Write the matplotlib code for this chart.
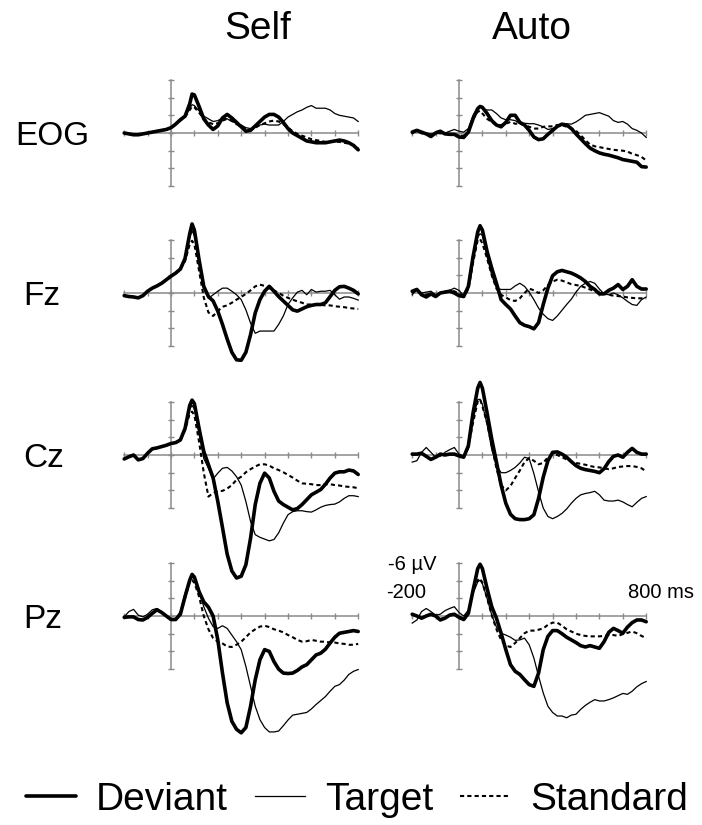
import numpy as np
import matplotlib
matplotlib.use('Agg')
import matplotlib.pyplot as plt
from matplotlib.lines import Line2D

plt.rcParams['font.family'] = ['Liberation Sans', 'DejaVu Sans']

# ---------------- data (µV, negative plotted upward) ----------------
time_ms = [-200, -180, -160, -140, -120, -100, -80, -60, -40, -20, 0, 20, 40, 60, 80, 90,
           100, 120, 140, 160, 180, 200, 220, 240, 260, 280, 300, 320, 340, 360, 380, 400,
           420, 440, 460, 480, 500, 520, 540, 560, 580, 600, 620, 640, 660, 680, 700, 720,
           740, 760, 780, 800]

conditions = ['Self', 'Auto']
channels = ['EOG', 'Fz', 'Cz', 'Pz']
series_names = ['Deviant', 'Target', 'Standard']

eog_self_deviant = [0.0, 0.1, 0.2, 0.2, 0.1, 0.0, -0.1, -0.2, -0.3, -0.4, -0.6, -1.0, -1.5, -1.9, -3.3, -4.4,
                    -4.3, -3.0, -1.6, -0.9, -0.4, -0.8, -1.7, -2.1, -1.7, -1.2, -0.7, -0.2, -0.3, -0.8, -1.3, -1.8,
                    -2.1, -2.1, -1.8, -1.2, -0.5, 0.0, 0.3, 0.6, 0.9, 1.0, 1.1, 1.1, 1.1, 1.0, 0.9, 0.8,
                    0.9, 1.1, 1.4, 1.9]
eog_self_target = [0.0, 0.1, 0.2, 0.2, 0.1, 0.0, -0.1, -0.2, -0.3, -0.4, -0.6, -1.0, -1.4, -1.8, -2.8, -3.2,
                   -3.1, -2.5, -1.9, -1.6, -1.3, -1.4, -1.7, -1.6, -1.3, -1.1, -0.9, -0.6, -0.5, -0.7, -0.9, -1.0,
                   -0.9, -0.9, -0.9, -1.3, -1.8, -2.1, -2.4, -2.6, -2.9, -3.1, -2.8, -2.8, -2.8, -2.6, -2.2, -2.0,
                   -1.9, -1.8, -1.7, -1.3]
eog_self_standard = [0.0, 0.1, 0.2, 0.2, 0.1, 0.0, -0.1, -0.2, -0.3, -0.4, -0.6, -1.0, -1.4, -1.8, -2.6, -3.0,
                     -2.9, -2.3, -1.6, -1.2, -1.0, -1.1, -1.4, -1.6, -1.4, -1.0, -0.7, -0.5, -0.4, -0.6, -0.9, -1.1,
                     -1.3, -1.4, -1.3, -1.0, -0.6, -0.2, 0.1, 0.3, 0.5, 0.7, 0.8, 0.9, 1.0, 1.0, 1.0, 1.0,
                     1.1, 1.2, 1.4, 1.7]

eog_auto_deviant = [-0.1, -0.3, -0.1, 0.1, 0.4, 0.0, -0.2, 0.1, 0.15, 0.15, 0.45, 0.5, -0.1, -1.6, -2.75, -3.0,
                    -2.9, -2.2, -1.4, -0.9, -0.7, -1.2, -2.0, -2.0, -1.2, -0.9, -0.3, 0.45, 0.75, 0.65, 0.15, -0.3,
                    -0.75, -1.0, -0.9, -0.5, 0.1, 0.65, 1.2, 1.7, 2.0, 2.25, 2.4, 2.5, 2.65, 2.8, 3.0, 3.1,
                    3.2, 3.3, 3.8, 3.85]
eog_auto_target = [0.1, -0.3, 0.1, 0.0, 0.1, 0.0, 0.1, 0.0, -0.2, -0.4, -0.2, -0.1, -0.5, -2.0, -2.9, -3.0,
                   -2.75, -2.6, -2.6, -2.2, -1.7, -1.5, -1.5, -1.4, -1.05, -1.1, -1.05, -1.05, -0.9, -0.7, -0.4, -0.5,
                   -0.7, -0.9, -1.05, -1.0, -1.25, -1.6, -2.0, -2.1, -2.2, -2.3, -2.1, -1.9, -1.4, -1.2, -1.3, -1.0,
                   -0.5, -0.3, 0.0, 0.5]
eog_auto_standard = [-0.1, -0.2, 0.0, 0.1, 0.3, 0.0, -0.1, 0.1, 0.1, 0.1, 0.3, 0.3, -0.1, -1.6, -2.4, -2.5,
                     -2.2, -1.6, -1.25, -0.9, -0.9, -1.05, -1.25, -1.05, -1.05, -0.9, -0.7, -0.5, -0.5, -0.7, -0.75, -0.75,
                     -0.9, -0.9, -0.7, -0.5, -0.25, 0.25, 0.8, 1.3, 1.5, 1.6, 1.7, 1.8, 1.9, 1.95, 2.0, 2.1,
                     2.35, 2.5, 2.7, 3.1]

fz_self_deviant = [0.3, 0.4, 0.45, 0.55, 0.3, -0.2, -0.55, -0.8, -1.1, -1.5, -1.9, -2.25, -2.7, -3.9, -6.7, -7.8,
                   -7.1, -3.75, -0.75, 0.4, 0.9, 2.05, 3.55, 5.2, 6.7, 7.55, 7.6, 6.7, 4.7, 2.25, 0.75, -0.2,
                   -0.75, -0.2, 0.4, 0.9, 1.4, 1.9, 2.05, 1.8, 1.55, 1.4, 1.3, 1.3, 1.1, 0.4, -0.3, -0.7,
                   -0.75, -0.55, -0.3, 0.1]
fz_self_target = [0.3, 0.4, 0.45, 0.55, 0.3, -0.2, -0.55, -0.8, -1.1, -1.5, -1.9, -2.25, -2.7, -3.8, -6.3, -7.0,
                  -6.5, -3.5, -0.5, 0.6, 0.2, -0.2, -0.55, -0.55, -0.2, 0.2, 0.75, 1.9, 3.4, 4.55, 4.3, 4.3,
                  4.3, 4.3, 3.55, 2.6, 1.3, 0.55, -0.1, -0.3, 0.2, -0.4, -0.1, -0.2, -0.2, -0.3, 0.2, 0.7,
                  0.45, 0.45, 0.6, 0.8]
fz_self_standard = [0.3, 0.4, 0.45, 0.55, 0.3, -0.2, -0.55, -0.8, -1.1, -1.5, -1.9, -2.25, -2.7, -3.6, -5.5, -5.9,
                    -5.5, -2.5, 0.5, 2.2, 2.6, 2.05, 1.55, 1.4, 1.1, 0.75, 0.45, 0.1, -0.3, -0.75, -0.95, -0.8,
                    -0.55, -0.3, 0.0, 0.3, 0.55, 0.75, 0.95, 1.1, 1.3, 1.3, 1.3, 1.35, 1.4, 1.4, 1.5, 1.55,
                    1.6, 1.7, 1.75, 1.8]

fz_auto_deviant = [-0.2, -0.4, 0.2, 0.45, 0.1, 0.4, 0.0, -0.1, -0.2, 0.0, 0.3, 0.4, -0.75, -4.1, -6.9, -7.6,
                   -7.1, -4.7, -2.8, -1.1, 0.75, 1.3, 1.8, 2.6, 3.35, 3.65, 3.8, 4.05, 3.35, 1.3, -0.55, -1.95,
                   -2.4, -2.55, -2.4, -2.25, -2.0, -1.7, -1.3, -0.75, -0.4, 0.1, 0.1, -0.3, -0.55, -0.95, -0.4, -0.75,
                   -1.5, -0.75, -0.45, -0.45]
fz_auto_target = [0.2, -0.45, 0.0, -0.1, -0.2, 0.2, 0.0, -0.2, -0.3, -0.55, -0.3, 0.3, -0.4, -3.75, -6.3, -6.7,
                  -6.5, -4.1, -2.0, -0.55, -0.4, -0.4, -0.4, -0.8, -1.1, -0.75, -0.1, 0.75, 1.7, 2.4, 2.9, 3.1,
                  2.6, 1.95, 1.3, 0.7, -0.1, -0.75, -1.1, -1.3, -1.1, -0.45, 0.1, 0.2, 0.0, 0.2, 0.55, 0.95,
                  1.3, 1.4, 0.75, 0.45]
fz_auto_standard = [0.0, -0.3, 0.1, 0.2, 0.0, 0.2, 0.0, -0.1, -0.2, -0.2, 0.1, 0.3, -0.4, -3.4, -6.0, -6.1,
                    -5.6, -3.9, -2.0, -0.5, 0.2, 0.5, 0.8, 0.9, 0.6, 0.0, -0.5, -0.3, 0.0, -0.3, -0.9, -1.3,
                    -1.5, -1.4, -1.2, -1.0, -0.9, -0.8, -0.6, -0.4, -0.2, 0.0, 0.1, 0.2, 0.3, 0.35, 0.4, 0.5,
                    0.55, 0.6, 0.6, 0.6]

cz_self_deviant = [0.45, 0.2, 0.0, 0.55, 0.4, -0.2, -0.7, -0.8, -0.95, -1.1, -1.3, -1.4, -1.7, -3.0, -5.6, -6.2,
                   -5.8, -3.0, -0.4, 1.1, 2.6, 5.25, 8.2, 11.2, 13.1, 13.9, 13.7, 12.4, 9.4, 5.6, 3.2, 2.05,
                   2.6, 4.1, 5.2, 5.6, 5.9, 6.2, 6.05, 5.6, 5.05, 4.5, 4.2, 3.9, 3.3, 2.6, 2.05, 1.9,
                   1.9, 1.7, 1.8, 2.2]
cz_self_target = [0.45, 0.2, 0.0, 0.55, 0.4, -0.2, -0.7, -0.8, -0.95, -1.1, -1.3, -1.4, -1.7, -2.9, -5.2, -5.6,
                  -5.2, -2.6, 0.4, 1.5, 2.7, 2.05, 1.5, 1.4, 1.8, 2.45, 3.4, 5.25, 7.5, 9.0, 9.3, 9.5,
                  9.7, 9.55, 8.8, 7.7, 6.75, 6.4, 6.3, 6.3, 6.4, 6.45, 6.2, 5.9, 5.7, 5.6, 5.55, 5.3,
                  4.9, 4.6, 4.6, 4.7]
cz_self_standard = [0.45, 0.2, 0.0, 0.55, 0.4, -0.2, -0.7, -0.8, -0.95, -1.1, -1.3, -1.4, -1.7, -2.8, -4.7, -4.9,
                    -4.5, -1.5, 2.0, 4.7, 4.3, 4.1, 4.05, 3.8, 3.4, 2.8, 2.45, 1.95, 1.6, 1.3, 1.05, 1.05,
                    1.2, 1.5, 1.7, 1.95, 2.25, 2.55, 2.9, 3.2, 3.25, 3.3, 3.4, 3.4, 3.3, 3.3, 3.4, 3.45,
                    3.55, 3.6, 3.65, 3.75]

cz_auto_deviant = [-0.1, -0.1, -0.2, 0.15, 0.5, 0.25, -0.1, 0.0, -0.1, -0.1, 0.1, 0.25, -1.05, -4.75, -7.55, -8.2,
                   -7.55, -4.75, -1.8, 0.8, 3.4, 5.45, 6.7, 7.2, 7.3, 7.3, 7.2, 6.75, 4.9, 2.5, 0.65, -0.3,
                   -0.35, -0.1, 0.25, 0.75, 1.2, 1.5, 1.65, 1.75, 1.85, 2.0, 1.55, 0.75, 0.15, 0.0, 0.25, -0.3,
                   -0.75, -0.3, -0.1, -0.1]
cz_auto_target = [0.8, 0.65, -0.3, -0.85, -0.3, 0.25, 0.15, -0.3, -0.6, -0.85, -0.1, 0.1, -0.65, -4.0, -6.25, -6.3,
                  -5.7, -3.45, -0.65, 1.2, 2.0, 2.0, 1.75, 1.4, 0.9, 0.25, 0.4, 2.1, 4.15, 6.0, 6.95, 7.2,
                  6.95, 6.6, 6.1, 5.45, 4.9, 4.5, 4.35, 4.25, 4.1, 4.5, 5.1, 5.2, 5.2, 5.1, 5.3, 5.6,
                  5.85, 5.35, 4.9, 4.7]
cz_auto_standard = [-0.1, -0.1, -0.2, 0.15, 0.5, 0.25, -0.1, 0.0, -0.1, -0.1, 0.1, 0.2, -0.9, -3.65, -6.05, -6.3,
                    -5.5, -3.65, -1.0, 1.5, 3.4, 4.0, 3.5, 2.6, 1.75, 0.8, 0.35, 0.65, 1.05, 0.9, 0.25, -0.1,
                    0.0, 0.25, 0.5, 0.75, 0.9, 1.0, 1.1, 1.25, 1.35, 1.4, 1.5, 1.6, 1.5, 1.35, 1.3, 1.25,
                    1.25, 1.35, 1.5, 1.85]

pz_self_deviant = [0.15, 0.1, 0.1, 0.4, 0.45, 0.15, -0.3, -0.7, -0.4, 0.0, 0.4, 0.4, -0.2, -2.2, -4.05, -4.7,
                   -4.4, -2.75, -1.6, -1.0, 0.0, 2.7, 6.45, 9.8, 11.9, 12.8, 13.2, 12.6, 10.2, 7.2, 4.95, 3.8,
                   4.0, 5.15, 6.0, 6.45, 6.5, 6.45, 6.15, 5.75, 5.5, 4.95, 4.4, 4.2, 3.75, 3.05, 2.4, 1.95,
                   1.85, 1.75, 1.65, 1.75]
pz_self_target = [0.1, -0.5, -0.75, -0.1, 0.1, -0.2, -0.7, -0.85, -0.5, -0.1, 0.4, 0.25, -0.5, -2.55, -4.05, -4.4,
                  -4.2, -2.75, -1.05, 0.25, 1.2, 1.4, 1.1, 1.4, 2.15, 2.9, 3.8, 5.7, 7.95, 10.2, 11.7, 12.6,
                  13.1, 13.1, 13.0, 12.4, 11.75, 11.2, 11.1, 11.0, 10.9, 10.5, 10.0, 9.55, 9.1, 8.5, 7.95, 7.75,
                  7.25, 6.6, 6.25, 6.05]
pz_self_standard = [0.15, 0.1, 0.1, 0.4, 0.45, 0.15, -0.3, -0.7, -0.4, 0.0, 0.4, 0.4, -0.2, -2.0, -3.85, -4.05,
                    -3.75, -2.2, 0.0, 1.5, 2.5, 2.9, 3.1, 3.45, 3.5, 3.25, 2.9, 2.4, 1.85, 1.5, 1.2, 1.1,
                    1.25, 1.5, 1.65, 1.85, 2.15, 2.4, 2.7, 2.9, 2.85, 2.7, 2.8, 2.9, 2.9, 3.0, 3.0, 3.1,
                    3.15, 3.25, 3.25, 3.15]

pz_auto_deviant = [-0.2, 0.0, 0.25, 0.0, -0.2, 0.0, 0.45, 0.25, -0.1, -0.2, 0.15, 0.4, -0.3, -2.9, -5.35, -5.85,
                   -5.35, -3.1, -1.05, 0.25, 1.95, 3.8, 5.5, 6.25, 6.6, 7.2, 7.75, 7.95, 6.45, 3.8, 2.3, 1.65,
                   1.65, 2.0, 2.4, 2.7, 3.0, 3.35, 3.5, 3.35, 3.5, 3.65, 2.9, 1.85, 1.4, 1.65, 1.95, 1.25,
                   0.75, 0.45, 0.45, 0.65]
pz_auto_target = [0.8, 0.45, -0.5, -0.85, -0.5, -0.1, -0.2, -0.6, -0.85, -1.05, -0.4, 0.0, -0.65, -2.55, -3.85, -4.05,
                  -3.65, -2.0, -0.1, 1.25, 1.95, 2.15, 2.4, 2.75, 2.7, 2.5, 3.25, 4.75, 6.8, 8.7, 10.2, 10.9,
                  11.3, 11.3, 11.5, 11.2, 11.1, 10.55, 10.1, 9.75, 9.45, 9.6, 9.6, 9.45, 9.25, 9.0, 8.75, 8.85,
                  8.5, 8.0, 7.65, 7.4]
pz_auto_standard = [-0.2, 0.0, 0.2, 0.0, -0.2, 0.0, 0.35, 0.2, -0.1, -0.2, 0.1, 0.3, -0.4, -2.9, -4.05, -4.25,
                    -3.75, -2.0, -0.1, 1.5, 2.7, 3.35, 3.5, 3.05, 2.5, 1.95, 1.65, 1.65, 1.55, 1.4, 1.0, 0.75,
                    0.75, 1.1, 1.5, 1.75, 2.0, 2.15, 2.25, 2.3, 2.3, 2.3, 2.25, 2.15, 2.15, 2.25, 2.05, 1.9,
                    1.75, 1.95, 2.25, 2.5]

x_ticks = list(range(-200, 801, 100))
y_ticks = [-6, -4, -2, 0, 2, 4, 6]

panels = {
    ('EOG', 'Self'): (eog_self_deviant, eog_self_target, eog_self_standard),
    ('EOG', 'Auto'): (eog_auto_deviant, eog_auto_target, eog_auto_standard),
    ('Fz', 'Self'): (fz_self_deviant, fz_self_target, fz_self_standard),
    ('Fz', 'Auto'): (fz_auto_deviant, fz_auto_target, fz_auto_standard),
    ('Cz', 'Self'): (cz_self_deviant, cz_self_target, cz_self_standard),
    ('Cz', 'Auto'): (cz_auto_deviant, cz_auto_target, cz_auto_standard),
    ('Pz', 'Self'): (pz_self_deviant, pz_self_target, pz_self_standard),
    ('Pz', 'Auto'): (pz_auto_deviant, pz_auto_target, pz_auto_standard),
}

# ---------------- layout ----------------
W, H = 702, 825
fig = plt.figure(figsize=(W / 100, H / 100), dpi=100)
fig.patch.set_facecolor('white')

col_zero_x = {'Self': 171, 'Auto': 459}
row_zero_y = {'EOG': 133, 'Fz': 293, 'Cz': 455, 'Pz': 616}
px_per_ms = 0.234
px_per_uv = 8.85
VMIN, VMAX = -10, 16
AX_GRAY = '#8a8a8a'

styles = {
    'Deviant': dict(color='black', lw=2.6, solid_capstyle='round', solid_joinstyle='round'),
    'Target': dict(color='black', lw=0.9),
    'Standard': dict(color='black', lw=1.5, dashes=(2.0, 1.5)),
}

axes = {}
for ch in channels:
    for cond in conditions:
        xz, yz = col_zero_x[cond], row_zero_y[ch]
        left = xz + (-200) * px_per_ms
        width = 1000 * px_per_ms
        top = yz + VMIN * px_per_uv
        height = (VMAX - VMIN) * px_per_uv
        ax = fig.add_axes([left / W, 1 - (top + height) / H, width / W, height / H])
        ax.set_xlim(-200, 800)
        ax.set_ylim(VMAX, VMIN)
        ax.patch.set_visible(False)
        for s in ['top', 'right']:
            ax.spines[s].set_visible(False)
        ax.spines['left'].set_position(('data', 0))
        ax.spines['left'].set_bounds(-6, 6)
        ax.spines['bottom'].set_position(('data', 0))
        ax.spines['bottom'].set_bounds(-200, 800)
        for s in ['left', 'bottom']:
            ax.spines[s].set_color(AX_GRAY)
            ax.spines[s].set_linewidth(1.1)
            ax.spines[s].set_zorder(1)
        ax.set_xticks(x_ticks)
        ax.set_yticks(y_ticks)
        ax.tick_params(direction='inout', length=5, width=1.0, color=AX_GRAY,
                       labelbottom=False, labelleft=False)
        dev, tgt, std = panels[(ch, cond)]
        ax.plot(time_ms, std, clip_on=False, zorder=3, **styles['Standard'])
        ax.plot(time_ms, tgt, clip_on=False, zorder=4, **styles['Target'])
        ax.plot(time_ms, dev, clip_on=False, zorder=5, **styles['Deviant'])
        axes[(ch, cond)] = ax

# column titles
fig.text(258 / W, 1 - 39 / H, 'Self', fontsize=28, ha='center', va='baseline')
fig.text(532 / W, 1 - 39 / H, 'Auto', fontsize=28, ha='center', va='baseline')

# row labels
row_label_x = {'EOG': 15, 'Fz': 23, 'Cz': 23, 'Pz': 23}
for ch in channels:
    fig.text(row_label_x[ch] / W, 1 - (row_zero_y[ch] + 12) / H, ch, fontsize=24,
             ha='left', va='baseline')

# scale annotation
fig.text(437 / W, 1 - 565 / H, '-6 µV', fontsize=14.5, ha='right', va='center')
fig.text(406 / W, 1 - 593 / H, '-200', fontsize=14.5, ha='center', va='center')
fig.text(628 / W, 1 - 593 / H, '800 ms', fontsize=14.5, ha='left', va='center')

# legend
handles = [Line2D([], [], **styles[n]) for n in series_names]
fig.legend(handles, series_names, loc='center', bbox_to_anchor=(357 / W, 1 - 800 / H),
           ncol=3, frameon=False, fontsize=28, handlelength=1.3, handletextpad=0.5,
           columnspacing=0.7, borderpad=0, borderaxespad=0)

fig.savefig('out.png', dpi=100, facecolor='white')
